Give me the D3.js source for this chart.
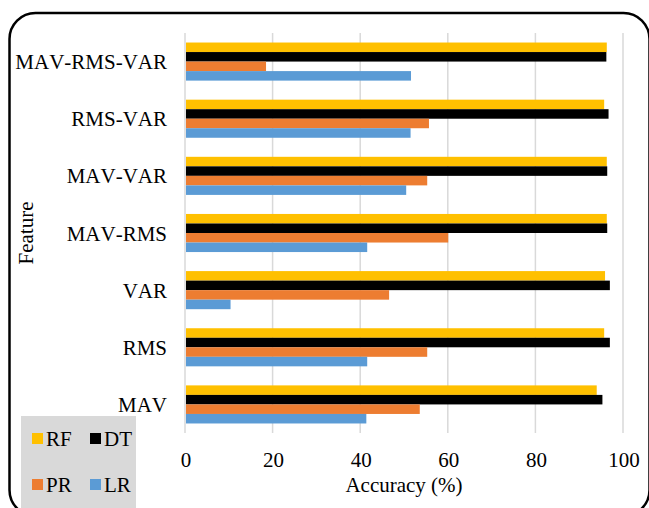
<!DOCTYPE html>
<html>
<head>
<meta charset="utf-8">
<script src="https://cdn.jsdelivr.net/npm/d3@7"></script>
<style>
  html, body { margin: 0; padding: 0; background: #fff; }
  svg { display: block; }
  text { font-kerning: none; }
</style>
</head>
<body>
<svg id="chart" width="649" height="508" font-family="'Liberation Serif', 'Times New Roman', Times, serif"></svg>
<script>
// Feature sets, listed top to bottom as drawn
const features = ["MAV-RMS-VAR", "RMS-VAR", "MAV-VAR", "MAV-RMS", "VAR", "RMS", "MAV"];
// Classifier accuracy (%) per feature set
const seriesNames = ["RF", "DT", "PR", "LR"];
const rfValues = [96.3, 95.7, 96.3, 96.3, 95.9, 95.7, 94.0];
const dtValues = [96.2, 96.7, 96.4, 96.4, 97.0, 97.0, 95.3];
const prValues = [18.5, 55.7, 55.3, 60.1, 46.6, 55.3, 53.6];
const lrValues = [51.6, 51.5, 50.5, 41.6, 10.4, 41.6, 41.4];
const xTicks = [0, 20, 40, 60, 80, 100];
const colors = { RF: "#FFC000", DT: "#000000", PR: "#ED7D31", LR: "#5B9BD5" };

const valuesBySeries = { RF: rfValues, DT: dtValues, PR: prValues, LR: lrValues };
const serif = "'Liberation Serif', 'Times New Roman', Times, serif";

const svg = d3.select("#chart");
const plot = { left: 185, right: 623, top: 33, bottom: 433 };

const x = d3.scaleLinear().domain([0, 100]).range([plot.left, plot.right]);
const y = d3.scaleBand().domain(features).range([plot.top, plot.bottom])
  .paddingInner(1 / 3).paddingOuter(1 / 6);
const ySub = d3.scaleBand().domain(seriesNames).range([0, y.bandwidth()]);

// Rounded outer frame
svg.append("rect")
  .attr("x", 9.5).attr("y", 13).attr("width", 640).attr("height", 503)
  .attr("rx", 26).attr("ry", 26)
  .attr("fill", "none").attr("stroke", "#000").attr("stroke-width", 2.5);

// Vertical gridlines
svg.append("g").selectAll("line").data(xTicks).join("line")
  .attr("x1", d => x(d)).attr("x2", d => x(d))
  .attr("y1", plot.top).attr("y2", plot.bottom)
  .attr("stroke", "#d9d9d9").attr("stroke-width", 1.5);

// Bars
const groups = svg.append("g").selectAll("g").data(features).join("g")
  .attr("transform", d => `translate(0,${y(d)})`);
groups.selectAll("rect")
  .data((f, i) => seriesNames.map(s => ({ s, v: valuesBySeries[s][i] })))
  .join("rect")
  .attr("x", x(0) + 1)
  .attr("y", d => ySub(d.s))
  .attr("width", d => x(d.v) - x(0) - 1)
  .attr("height", ySub.bandwidth())
  .attr("fill", d => colors[d.s]);

function label(sel) {
  return sel.style("font-family", serif).style("font-size", "21px")
    .style("font-kerning", "none").attr("fill", "#000");
}

// Category labels
label(svg.append("g").selectAll("text").data(features).join("text")
  .attr("x", 167)
  .attr("y", d => y(d) + y.bandwidth() / 2 + 7.5)
  .attr("text-anchor", "end")
  .text(d => d));

// X tick labels
label(svg.append("g").selectAll("text").data(xTicks).join("text")
  .attr("x", d => x(d) + 1)
  .attr("y", 467)
  .attr("text-anchor", "middle")
  .text(d => d));

// Axis titles
label(svg.append("text")
  .attr("x", 404).attr("y", 492)
  .attr("text-anchor", "middle")
  .text("Accuracy (%)"));
label(svg.append("text")
  .attr("transform", "translate(33,233) rotate(-90)")
  .attr("text-anchor", "middle")
  .text("Feature"));

// Legend
const legend = svg.append("g");
legend.append("rect")
  .attr("x", 21).attr("y", 416).attr("width", 115).attr("height", 92)
  .attr("fill", "#d9d9d9");
const legendPos = [
  { s: "RF", x: 32, y: 433 },
  { s: "DT", x: 90, y: 433 },
  { s: "PR", x: 32, y: 479 },
  { s: "LR", x: 90, y: 479 }
];
legend.selectAll("rect.key").data(legendPos).join("rect")
  .attr("class", "key")
  .attr("x", d => d.x).attr("y", d => d.y)
  .attr("width", 11).attr("height", 11)
  .attr("fill", d => colors[d.s]);
label(legend.selectAll("text").data(legendPos).join("text")
  .attr("x", d => d.x + 14).attr("y", d => d.y + 13)
  .text(d => d.s));
</script>
</body>
</html>
